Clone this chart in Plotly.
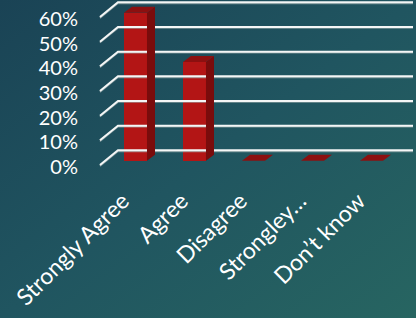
import base64
import plotly.graph_objects as go

# ---- data ----
categories = ["Strongly Agree", "Agree", "Disagree", "Strongley…", "Don’t know"]
values = [60, 40, 0, 0, 0]
tick_values = [0, 10, 20, 30, 40, 50, 60]
tick_labels = ["0%", "10%", "20%", "30%", "40%", "50%", "60%"]

# ---- styling / geometry ----
W, H = 416, 318
L_M, R_M, T_M, B_M = 95, 0, 0, 148
PW, PH = W - L_M - R_M, H - T_M - B_M
X_RANGE = [-0.686, 4.754]
Y_RANGE = [-3.77, 65.14]
BAR_W = 0.39
DX = 8 / (PW / (X_RANGE[1] - X_RANGE[0]))   # depth offset in x units
DY = 6 / (PH / (Y_RANGE[1] - Y_RANGE[0]))   # depth offset in y units
GRID_FRONT_X, GRID_BACK_X, GRID_END_X = -0.602, -0.297, 4.703
GRID_FRONT_DY, GRID_BACK_DY = -1.75, 4.2
LABEL_DY = -2.55
XLABEL_DX = -0.22
FONT = "Lato"

FRONT = "#b31515"
SIDE = "#7a0c0c"
TOP = "#8c1010"

xs = list(range(len(categories)))

# gridlines (back wall + slanted floor segment)
gx, gy, sy = [], [], []
for v in tick_values:
    gx += [GRID_FRONT_X, GRID_BACK_X, GRID_END_X, None]
    gy += [v + GRID_FRONT_DY, v + GRID_BACK_DY, v + GRID_BACK_DY, None]
    sy += [v + GRID_FRONT_DY - 0.45, v + GRID_BACK_DY - 0.45, v + GRID_BACK_DY - 0.45, None]

# 3D faces
side_x, side_y, top_x, top_y = [], [], [], []
for x, v in zip(xs, values):
    r = x + BAR_W / 2
    l = x - BAR_W / 2
    if v > 0:
        side_x += [r, r, r + DX, r + DX, r, None]
        side_y += [0, v, v + DY, DY, 0, None]
    top_x += [l, r, r + DX, l + DX, l, None]
    top_y += [v, v, v + DY, v + DY, v, None]

fig = go.Figure()
fig.add_trace(go.Scatter(x=gx, y=sy, mode="lines", line=dict(color="rgba(160,175,175,0.7)", width=1.5),
                         hoverinfo="skip", showlegend=False))
fig.add_trace(go.Scatter(x=gx, y=gy, mode="lines", line=dict(color="#f4f6f6", width=2),
                         hoverinfo="skip", showlegend=False))
fig.add_trace(go.Scatter(x=side_x, y=side_y, mode="lines", fill="toself", fillcolor=SIDE,
                         line=dict(width=0, color=SIDE), hoverinfo="skip", showlegend=False))
fig.add_trace(go.Scatter(x=top_x, y=top_y, mode="lines", fill="toself", fillcolor=TOP,
                         line=dict(width=0, color=TOP), hoverinfo="skip", showlegend=False))
fig.add_trace(go.Bar(x=xs, y=values, width=BAR_W, marker=dict(color=FRONT, line=dict(width=0)),
                     showlegend=False))

svg = (
    f'<svg xmlns="http://www.w3.org/2000/svg" width="{W}" height="{H}">'
    '<defs><linearGradient id="g" x1="0" y1="0" x2="1" y2="1">'
    '<stop offset="0" stop-color="#1a4355"/>'
    '<stop offset="0.5" stop-color="#205560"/>'
    '<stop offset="1" stop-color="#276561"/>'
    '</linearGradient></defs>'
    f'<rect width="{W}" height="{H}" fill="url(#g)"/></svg>'
)
src = "data:image/svg+xml;base64," + base64.b64encode(svg.encode()).decode()

fig.update_layout(
    width=W, height=H,
    margin=dict(l=L_M, r=R_M, t=T_M, b=B_M),
    paper_bgcolor="#205560",
    plot_bgcolor="rgba(0,0,0,0)",
    font=dict(family=FONT, color="white", size=19),
    images=[dict(source=src, xref="paper", yref="paper",
                 x=-L_M / PW, y=1 + T_M / PH, sizex=W / PW, sizey=H / PH,
                 sizing="stretch", layer="below", xanchor="left", yanchor="top")],
    xaxis=dict(range=X_RANGE, tickmode="array", tickvals=[x + XLABEL_DX for x in xs],
               ticktext=categories,
               tickangle=-45, showgrid=False, zeroline=False, showline=False,
               ticks="", tickfont=dict(size=23), ticklabelstandoff=12),
    yaxis=dict(range=Y_RANGE, tickmode="array",
               tickvals=[v + LABEL_DY for v in tick_values], ticktext=tick_labels,
               showgrid=False, zeroline=False, showline=False, ticks="",
               tickfont=dict(size=20), ticklabelstandoff=16),
    bargap=0,
)

fig.write_html("out.html", config={"displayModeBar": False},
               post_script="document.body.style.margin='0';document.body.style.background='#205560';")
